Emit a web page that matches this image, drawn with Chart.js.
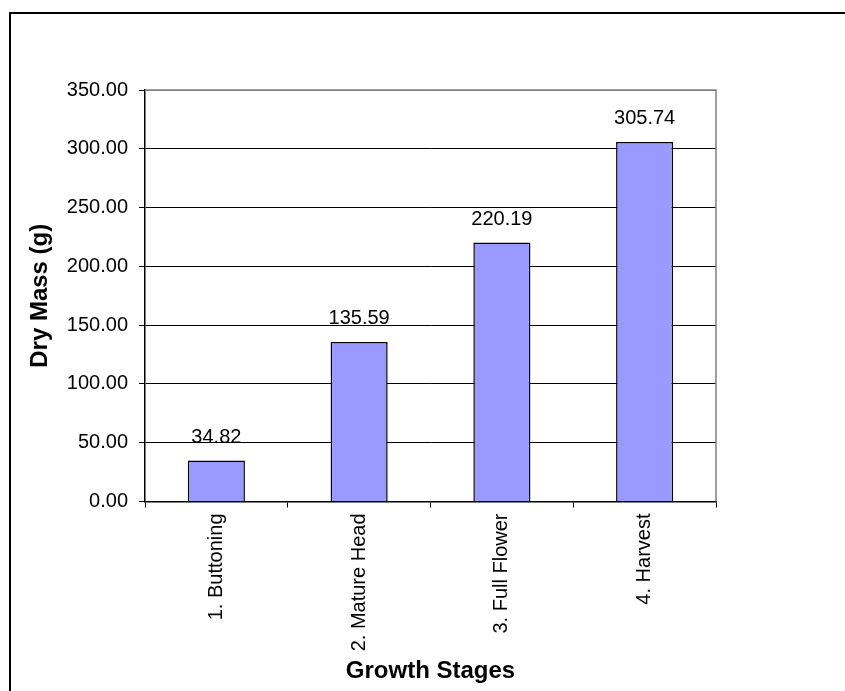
<!DOCTYPE html>
<html>
<head>
<meta charset="utf-8">
<script src="https://cdn.jsdelivr.net/npm/chart.js@4.4.1/dist/chart.umd.min.js"></script>
<style>
  html, body { margin: 0; padding: 0; background: #fff; }
  canvas { display: block; }
</style>
</head>
<body>
<canvas id="chart" width="845" height="691"></canvas>
<script>
// Dry mass per growth stage
const stages = ['1. Buttoning', '2. Mature Head', '3. Full Flower', '4. Harvest'];
const dryMass = [34.82, 135.59, 220.19, 305.74];
const yMin = 0;
const yMax = 350;
const yStep = 50;

const FONT = "'Liberation Sans', Arial, sans-serif";

// White page, outer frame, plot-area border and value labels
const chartDecor = {
  id: 'chartDecor',
  beforeDraw(chart) {
    const ctx = chart.ctx;
    ctx.save();
    ctx.fillStyle = '#fff';
    ctx.fillRect(0, 0, chart.width, chart.height);
    ctx.restore();
  },
  afterDraw(chart) {
    const ctx = chart.ctx;
    const a = chart.chartArea;
    ctx.save();
    // outer frame (top and left edges)
    ctx.strokeStyle = '#000';
    ctx.lineWidth = 2;
    ctx.beginPath();
    ctx.moveTo(10, chart.height);
    ctx.lineTo(10, 13);
    ctx.lineTo(chart.width, 13);
    ctx.stroke();
    // plot-area border (top and right)
    ctx.strokeStyle = '#808080';
    ctx.lineWidth = 1.5;
    ctx.beginPath();
    ctx.moveTo(a.left, a.top);
    ctx.lineTo(a.right, a.top);
    ctx.lineTo(a.right, a.bottom);
    ctx.stroke();
    // value labels above bars
    const meta = chart.getDatasetMeta(0);
    ctx.fillStyle = '#000';
    ctx.font = '20px ' + FONT;
    ctx.textAlign = 'center';
    ctx.textBaseline = 'alphabetic';
    meta.data.forEach((bar, i) => {
      const v = chart.data.datasets[0].data[i];
      ctx.fillText(v.toFixed(2), bar.x, bar.y - 18);
    });
    ctx.restore();
  }
};

new Chart(document.getElementById('chart'), {
  type: 'bar',
  data: {
    labels: stages,
    datasets: [{
      data: dryMass,
      backgroundColor: '#9999FF',
      borderColor: '#000',
      borderWidth: 1.5,
      categoryPercentage: 1.0,
      barPercentage: 0.4
    }]
  },
  options: {
    responsive: false,
    animation: false,
    devicePixelRatio: 1,
    layout: { padding: { top: 90, right: 129, left: 0, bottom: 0 } },
    plugins: {
      legend: { display: false },
      tooltip: { enabled: false }
    },
    scales: {
      x: {
        afterFit(scale) { scale.height = 189.5; },
        grid: {
          display: true,
          offset: true,
          drawOnChartArea: false,
          drawTicks: true,
          tickLength: 6,
          color: '#000',
          lineWidth: 1
        },
        border: { display: true, color: '#000', width: 1.5 },
        ticks: {
          minRotation: 90,
          maxRotation: 90,
          padding: 6,
          color: '#000',
          font: { family: FONT, size: 20 }
        },
        title: {
          display: true,
          text: 'Growth Stages',
          color: '#000',
          font: { family: FONT, size: 24, weight: 'bold' },
          padding: { top: 0, bottom: 5 }
        }
      },
      y: {
        min: yMin,
        max: yMax,
        afterFit(scale) { scale.width = 145; },
        grid: {
          color: (c) => (c.tick && c.tick.value === yMax) ? '#808080' : '#000',
          tickColor: '#000',
          lineWidth: 1,
          drawTicks: true,
          tickLength: 6
        },
        border: { display: true, color: '#000', width: 1.5 },
        ticks: {
          stepSize: yStep,
          padding: 11,
          color: '#000',
          font: { family: FONT, size: 20 },
          callback: (v) => Number(v).toFixed(2)
        },
        title: {
          display: true,
          text: 'Dry Mass (g)',
          color: '#000',
          font: { family: FONT, size: 24, weight: 'bold' },
          padding: { top: 26, bottom: 0 }
        }
      }
    }
  },
  plugins: [chartDecor]
});
</script>
</body>
</html>
